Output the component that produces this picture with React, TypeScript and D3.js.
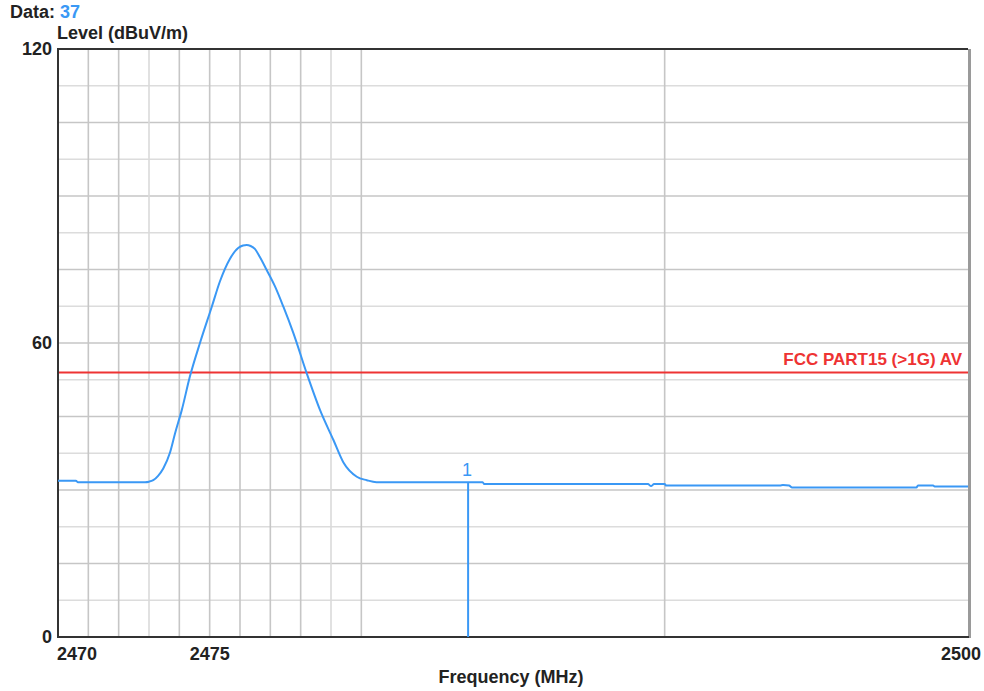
import React from "react";
import * as d3 from "d3";

const traceFreq = [
  2470.0, 2470.59, 2470.65, 2472.87, 2473.0, 2473.14, 2473.3, 2473.47, 2473.69, 2473.86, 2474.08,
  2474.35, 2474.68, 2475.07, 2475.34, 2475.67, 2475.94, 2476.1, 2476.22, 2476.35, 2476.49, 2476.65,
  2476.88, 2477.15, 2477.43, 2477.76, 2478.2, 2478.64, 2479.08, 2479.41, 2479.85, 2480.18, 2480.5,
  2484.0, 2484.05, 2489.45, 2489.55, 2489.65, 2490.0, 2490.05, 2493.8, 2493.9, 2494.1, 2494.2,
  2498.3, 2498.35, 2498.85, 2498.9, 2500.0,
];
const traceLevel = [
  31.9, 31.9, 31.6, 31.6, 31.7, 32.0, 32.9, 34.4, 37.6, 41.6, 46.3,
  53.2, 60.0, 67.4, 72.6, 77.2, 79.4, 79.9, 80.0, 79.8, 79.2, 77.6,
  74.9, 71.6, 67.4, 62.0, 53.8, 46.3, 40.2, 35.6, 32.7, 32.0, 31.6,
  31.6, 31.2, 31.2, 30.8, 31.2, 31.2, 30.9, 30.9, 31.0, 30.9, 30.5,
  30.5, 30.9, 30.9, 30.7, 30.7,
];

const limitLevel = 54;
const limitLabel = "FCC PART15 (>1G) AV";
const markerFreq = 2483.52;
const markerLevel = 31.6;
const markerLabel = "1";

const xDomain = [2470, 2500];
const yDomain = [0, 120];
const xGridValues = [2471, 2472, 2473, 2474, 2475, 2476, 2477, 2478, 2479, 2480, 2490];
const yGridValues = d3.range(7.5, 120, 7.5);
const xTickLabels = [2470, 2475, 2500];
const yTickLabels = [0, 60, 120];

const dataCount = "37";
const yTitle = "Level (dBuV/m)";
const xTitle = "Frequency (MHz)";

const FONT = "'Liberation Sans', Arial, sans-serif";
const BLUE = "#3a98f5";
const RED = "#ee3333";
const FS = 18;

export default function App() {
  const left = 58, right = 968, top = 49, bottom = 637;
  const x = d3.scaleLinear().domain(xDomain).range([left, right]);
  const y = d3.scaleLinear().domain(yDomain).range([bottom, top]);
  const line = d3
    .line<number>()
    .x((_, i) => x(traceFreq[i]))
    .y((d) => y(d))
    .curve(d3.curveMonotoneX);
  const path = line(traceLevel) || "";

  return (
    <svg
      width={984}
      height={691}
      style={{ position: "absolute", left: 0, top: 0, background: "#fff" }}
      fontFamily={FONT}
      fontWeight="bold"
    >
      <rect x={0} y={0} width={984} height={691} fill="#fff" />
      {/* grid */}
      {yGridValues.map((v, i) => (
        <line
          key={"hy" + v}
          x1={left}
          x2={right}
          y1={y(v)}
          y2={y(v)}
          stroke={i % 2 === 0 ? "#dcdcdc" : "#c6c6c6"}
          strokeWidth={1.6}
        />
      ))}
      {xGridValues.map((v) => (
        <line
          key={"vx" + v}
          x1={x(v)}
          x2={x(v)}
          y1={top}
          y2={bottom}
          stroke={v === 2473 || v === 2479 ? "#dadada" : "#c6c6c6"}
          strokeWidth={1.6}
        />
      ))}
      {/* frame */}
      <line x1={right + 1.5} x2={right + 1.5} y1={top} y2={bottom + 1} stroke="#9a9a9a" strokeWidth={3} />
      <line x1={left} x2={left} y1={top - 1} y2={bottom + 1} stroke="#333" strokeWidth={2} />
      <line x1={left} x2={right} y1={top} y2={top} stroke="#333" strokeWidth={2} />
      <line x1={left} x2={right + 1} y1={bottom} y2={bottom} stroke="#333" strokeWidth={2} />

      {/* limit line */}
      <line x1={left + 1} x2={right} y1={y(limitLevel)} y2={y(limitLevel)} stroke={RED} strokeWidth={2} />
      <text x={962} y={y(limitLevel) - 7} textAnchor="end" fill={RED} fontSize={17}>
        {limitLabel}
      </text>

      {/* trace */}
      <path d={path} fill="none" stroke={BLUE} strokeWidth={2} strokeLinejoin="round" />

      {/* marker */}
      <line x1={x(markerFreq)} x2={x(markerFreq)} y1={y(markerLevel)} y2={bottom} stroke={BLUE} strokeWidth={2} />
      <text x={x(markerFreq) - 1} y={y(markerLevel) - 6} textAnchor="middle" fill={BLUE} fontSize={FS} fontWeight="normal">
        {markerLabel}
      </text>

      {/* y tick labels */}
      {yTickLabels.map((v) => (
        <text key={"yl" + v} x={52} y={y(v) + 6} textAnchor="end" fill="#222" fontSize={FS}>
          {v}
        </text>
      ))}
      {/* x tick labels */}
      {xTickLabels.map((v, i) => (
        <text
          key={"xl" + v}
          x={i === 0 ? x(v) - 1 : i === xTickLabels.length - 1 ? x(v) + 13 : x(v)}
          y={660}
          textAnchor={i === 0 ? "start" : i === xTickLabels.length - 1 ? "end" : "middle"}
          fill="#222"
          fontSize={FS}
        >
          {v}
        </text>
      ))}

      {/* titles */}
      <text x={10} y={18} fill="#222" fontSize={FS}>
        Data: <tspan fill={BLUE}>{dataCount}</tspan>
      </text>
      <text x={57} y={39} fill="#222" fontSize={FS}>
        {yTitle}
      </text>
      <text x={511} y={683} textAnchor="middle" fill="#222" fontSize={FS}>
        {xTitle}
      </text>
    </svg>
  );
}
